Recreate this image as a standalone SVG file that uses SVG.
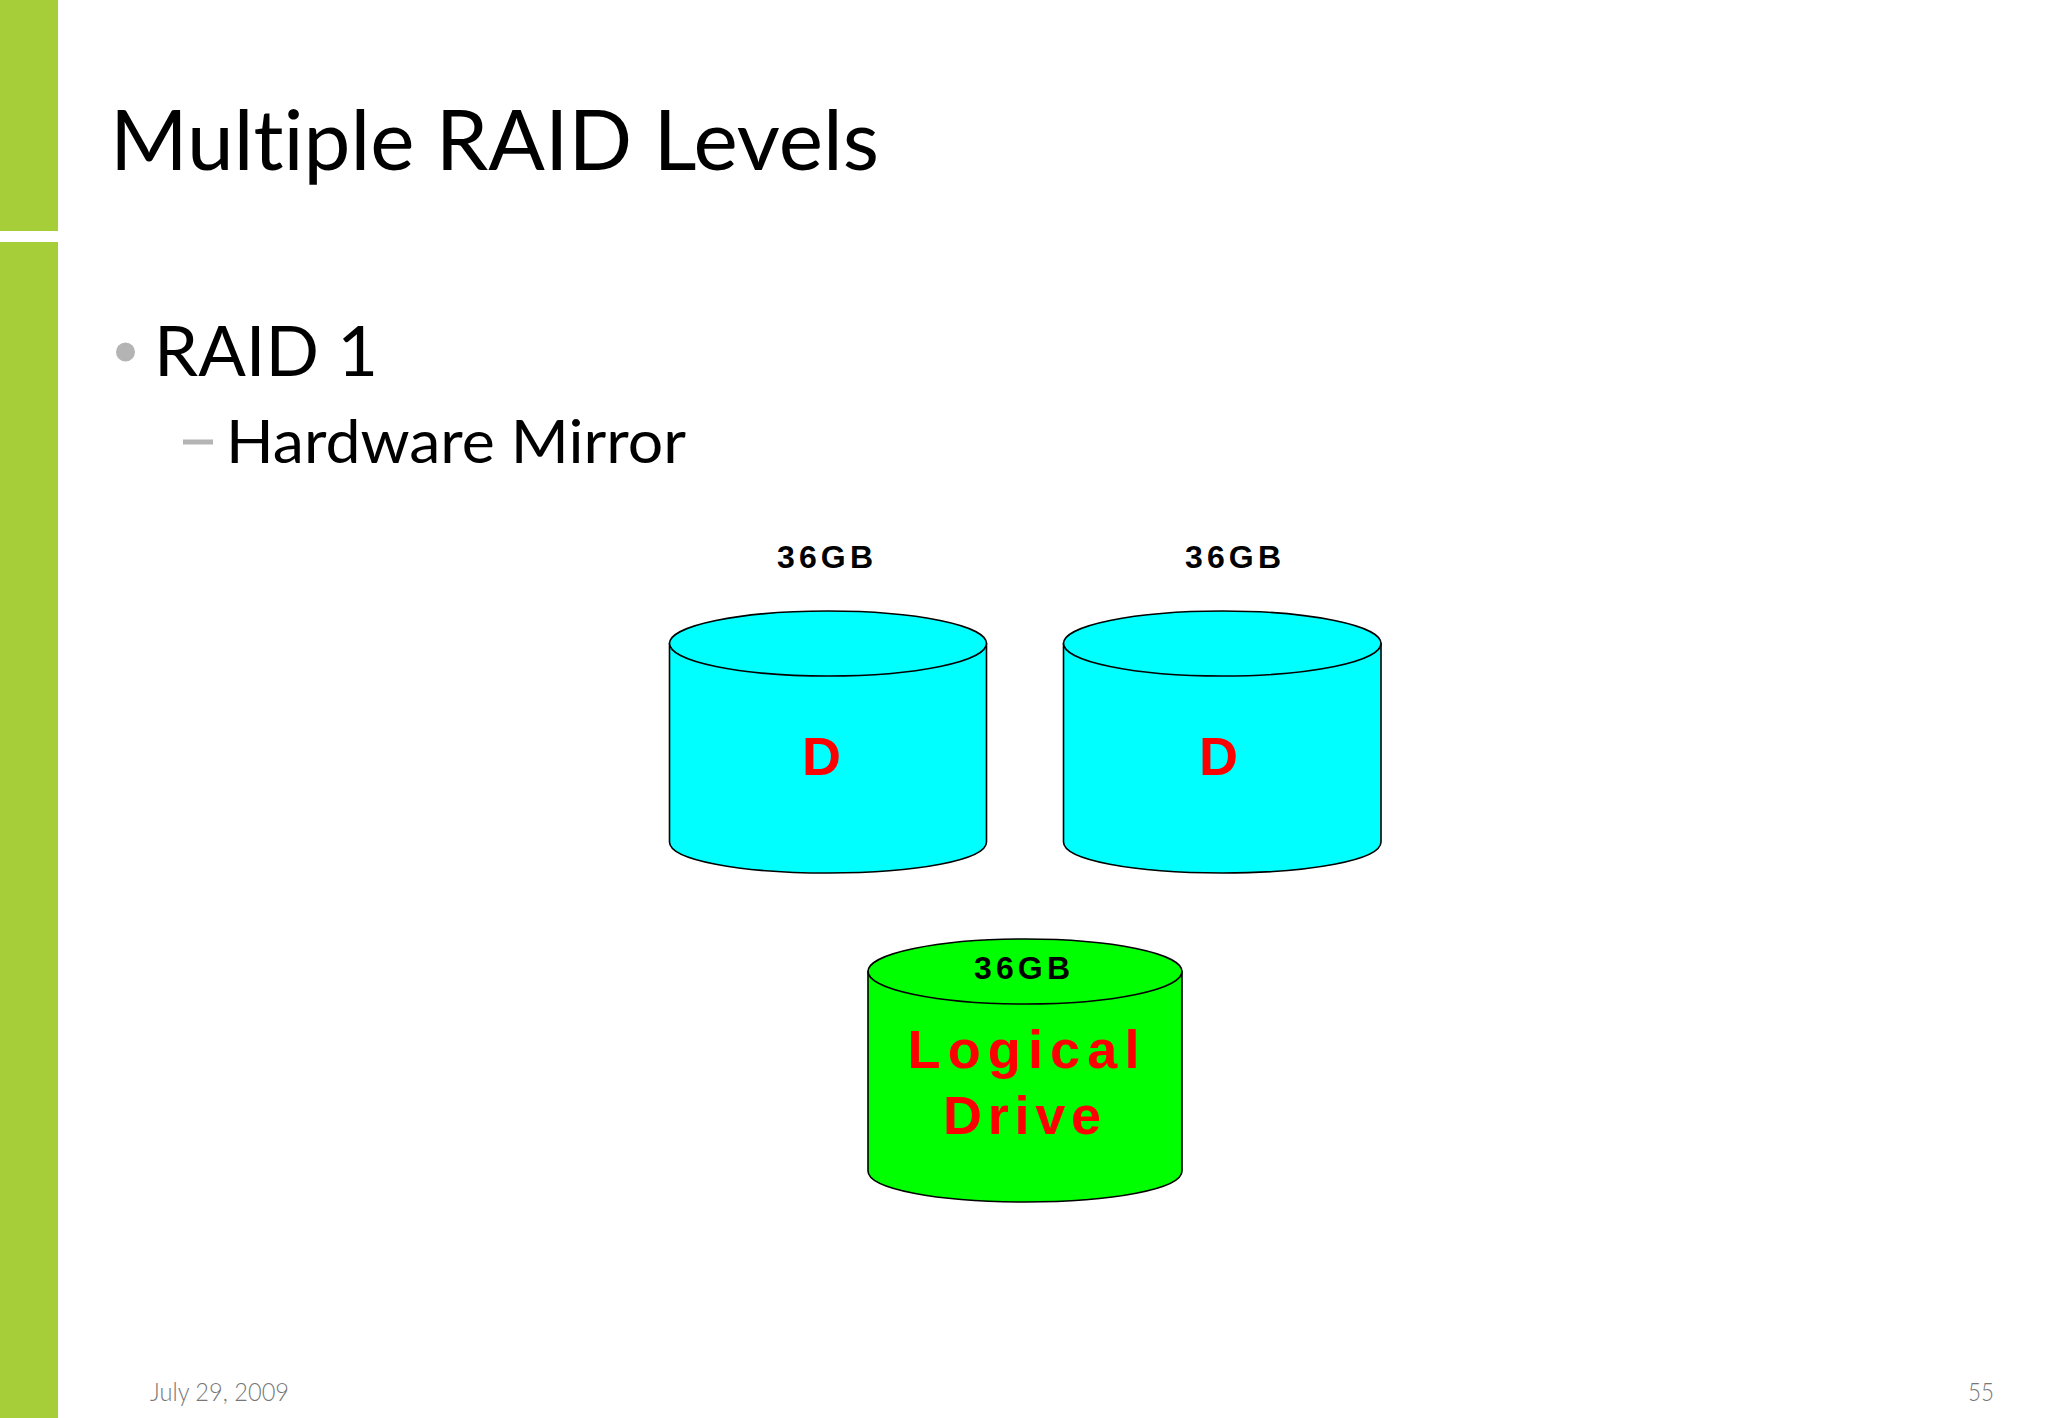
<svg xmlns="http://www.w3.org/2000/svg" width="2048" height="1418" viewBox="0 0 2048 1418">
<style>
.t{font-family:Lato,"Open Sans","Liberation Sans",sans-serif;font-weight:400;fill:#000;font-variant-ligatures:none}
.f{font-family:Lato,"Open Sans","Liberation Sans",sans-serif;font-weight:300;fill:#777;font-size:25px;font-variant-ligatures:none}
.b{font-family:"Liberation Sans",Arial,sans-serif;font-weight:700}
.k{fill:#000;font-size:32px}
.r{fill:#f00;font-size:54px}
.s{stroke:#000;stroke-width:1.6}
.c{fill:#0ff}
.g{fill:#0f0}
</style>
<rect id="bar-top" x="0" y="0" width="58" height="231" fill="#a6ce39"/>
<rect id="bar-main" x="0" y="242" width="58" height="1176" fill="#a6ce39"/>
<text class="t" x="110" y="170" font-size="84" textLength="769" lengthAdjust="spacingAndGlyphs">Multiple RAID Levels</text>
<ellipse cx="125.500" cy="352" rx="9.500" ry="9.500" fill="#b4b4b4"/>
<text class="t" x="154" y="376" font-size="70" textLength="224" lengthAdjust="spacingAndGlyphs">RAID 1</text>
<rect x="183" y="439.500" width="30" height="5" fill="#b4b4b4"/>
<text class="t" x="226" y="463" font-size="60" textLength="460" lengthAdjust="spacingAndGlyphs">Hardware Mirror</text>
<g id="disk-1">
<path class="s c" d="M669.500 643.500V842C669.500 860 740 873 828 873S986.500 860 986.500 842V643.500Z"/>
<ellipse class="s c" cx="828" cy="643.500" rx="158.500" ry="32.500"/>
<text class="b k" x="777" y="568" textLength="96" lengthAdjust="spacing">36GB</text>
<text class="b r" x="802" y="775">D</text>
</g>
<g id="disk-2">
<path class="s c" d="M1063.500 643.500V842C1063.500 860 1134 873 1222 873S1381 860 1381 842V643.500Z"/>
<ellipse class="s c" cx="1222.250" cy="643.500" rx="158.750" ry="32.500"/>
<text class="b k" x="1185" y="568" textLength="96" lengthAdjust="spacing">36GB</text>
<text class="b r" x="1199" y="775">D</text>
</g>
<g id="logical-drive">
<path class="s g" d="M868 971.500V1171C868 1189 938 1202 1025 1202S1182 1189 1182 1171V971.500Z"/>
<ellipse class="s g" cx="1025" cy="971.500" rx="157" ry="32.500"/>
<text class="b k" x="974" y="979" textLength="96" lengthAdjust="spacing">36GB</text>
<text class="b r" x="907.500" y="1068" textLength="232" lengthAdjust="spacing">Logical</text>
<text class="b r" x="943" y="1134" textLength="158" lengthAdjust="spacing">Drive</text>
</g>
<g id="connectors"/>
<text class="f" x="150" y="1401" textLength="139" lengthAdjust="spacingAndGlyphs">July 29, 2009</text>
<text class="f" x="1968" y="1401" textLength="26" lengthAdjust="spacingAndGlyphs">55</text>
</svg>
